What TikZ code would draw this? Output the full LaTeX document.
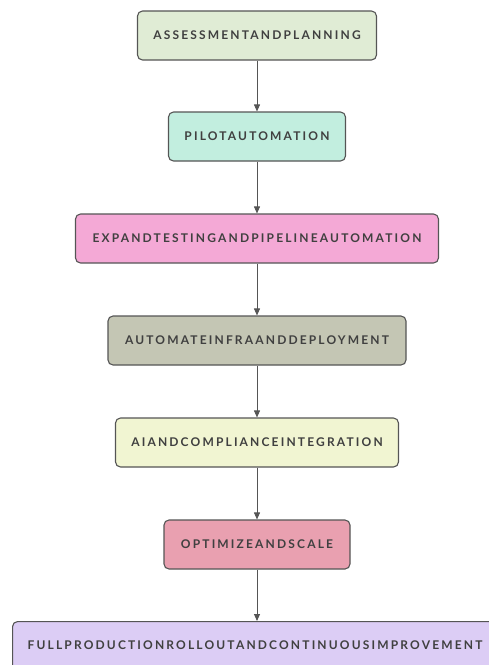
\documentclass[tikz,border=0pt]{standalone}
\usepackage{fontspec}
\setmainfont{Lato}
\newfontfamily\boxfont{Lato}[LetterSpace=18, UprightFont=* Bold, BoldFont=* Black]
\usetikzlibrary{arrows.meta}
\definecolor{txt}{HTML}{404040}
\definecolor{edge}{HTML}{555555}
\definecolor{cA}{HTML}{E0ECD5}
\definecolor{cB}{HTML}{C2EEDF}
\definecolor{cC}{HTML}{F4A9D6}
\definecolor{cD}{HTML}{C4C6B4}
\definecolor{cE}{HTML}{F1F5D2}
\definecolor{cF}{HTML}{E9A0B0}
\definecolor{cG}{HTML}{DCCDF5}
\tikzset{
  boxtext/.style={font=\boxfont\fontsize{12}{14}\selectfont, text=txt},
  stepbox/.style={draw=edge, line width=1.1pt, rounded corners=5pt, minimum height=49pt,
    inner sep=0pt, boxtext},
  flow/.style={draw=edge, line width=0.9pt, -{Triangle[length=7pt,width=6pt]}}
}
\begin{document}
\begin{tikzpicture}[x=1pt,y=-1pt]
\useasboundingbox (0,0) rectangle (489,665);
\node[stepbox, fill=cA, minimum width=239pt] (a) at (257,35.5) {ASSESSMENTANDPLANNING};
\node[stepbox, fill=cB, minimum width=177pt] (b) at (257,136.5) {PILOTAUTOMATION};
\node[stepbox, fill=cC, minimum width=363pt] (c) at (257,238.5) {EXPANDTESTINGANDPIPELINEAUTOMATION};
\node[stepbox, fill=cD, minimum width=298pt] (d) at (257,340.5) {AUTOMATEINFRAANDDEPLOYMENT};
\node[stepbox, fill=cE, minimum width=283pt] (e) at (257,442.5) {AIANDCOMPLIANCEINTEGRATION};
\node[stepbox, fill=cF, minimum width=186pt] (f) at (257,544.5) {OPTIMIZEANDSCALE};
\node[stepbox, fill=cG, minimum width=490pt, anchor=north west] (g) at (12,621) {};
\node[boxtext] (gt) at (255,645.5) {FULLPRODUCTIONROLLOUTANDCONTINUOUSIMPROVEMENT};
\draw[flow] (a.south) -- (b.north);
\draw[flow] (b.south) -- (c.north);
\draw[flow] (c.south) -- (d.north);
\draw[flow] (d.south) -- (e.north);
\draw[flow] (e.south) -- (f.north);
\draw[flow] (f.south) -- (g.north -| f.south);
\end{tikzpicture}
\end{document}
